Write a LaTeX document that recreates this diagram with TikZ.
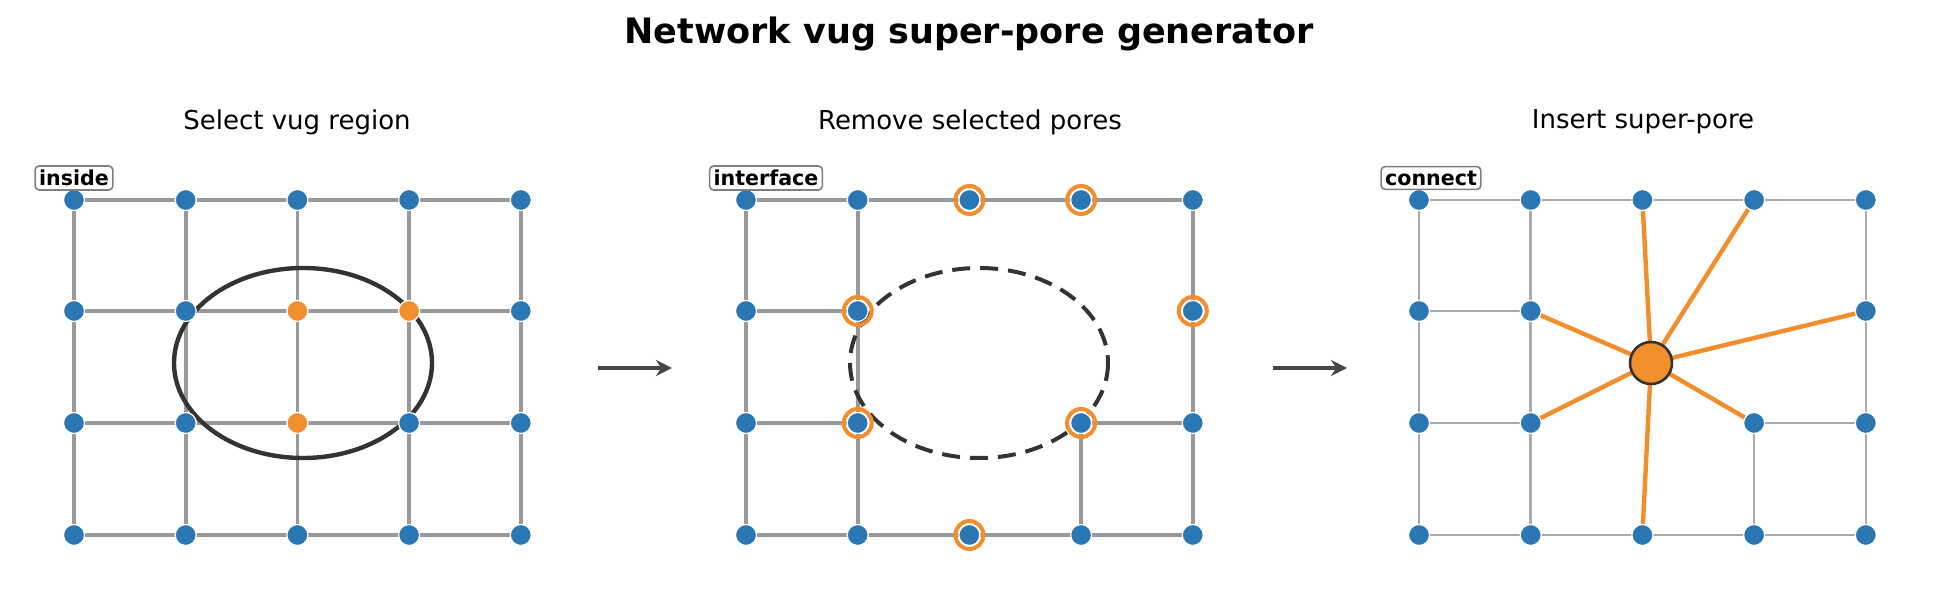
\documentclass[tikz,border=0pt]{standalone}
\usepackage{fontspec}
\setmainfont{DejaVu Sans}
\usetikzlibrary{arrows.meta}
\definecolor{pblue}{HTML}{2A77B4}
\definecolor{porange}{HTML}{F28E2B}
\definecolor{egray}{HTML}{999999}
\definecolor{lgray}{HTML}{AAAAAA}
\definecolor{dk}{HTML}{333333}
\tikzset{
  pore/.style={circle,fill=pblue,draw=white,line width=0.6pt,minimum size=10.5pt,inner sep=0pt},
  inpore/.style={pore,fill=porange},
  ring/.style={circle,draw=porange,line width=2pt,minimum size=14pt,inner sep=0pt},
  edge/.style={egray,line width=1.8pt},
  ledge/.style={lgray,line width=1.3pt},
  oedge/.style={porange,line width=2.2pt},
  tag/.style={draw=gray,rounded corners=2pt,fill=white,line width=0.8pt,font=\bfseries\fontsize{10.3}{12}\selectfont,inner sep=2pt},
  sub/.style={font=\fontsize{13}{15}\selectfont},
  arr/.style={-{Stealth[length=8pt,width=8pt]},line width=1.6pt,draw=dk!90}
}
\begin{document}
\begin{tikzpicture}[x=0.5pt,y=-0.5pt]
\useasboundingbox (0,0) rectangle (1939,608);
\node[font=\bfseries\fontsize{17.5}{20}\selectfont] (title) at (969,34) {Network vug super-pore generator};
\foreach \p/\ox in {a/74,b/746,c/1419}{
  \foreach \i in {0,...,4}{
    \foreach \j/\yy in {0/200,1/311,2/423,3/535}{
      \coordinate (\p\i\j) at ({\ox+111.7*\i},\yy);
    }}}
\node[sub] (s1) at (297,122) {Select vug region};
\node[sub] (s2) at (970,122) {Remove selected pores};
\node[sub] (s3) at (1643,122) {Insert super-pore};
% panel 1
\foreach \j in {0,...,3}{\foreach \i/\k in {0/1,1/2,2/3,3/4}{\draw[edge] (a\i\j) -- (a\k\j);}}
\foreach \i in {0,...,4}{\foreach \j/\k in {0/1,1/2,2/3}{\draw[edge] (a\i\j) -- (a\i\k);}}
\draw[dk,line width=2.2pt] (303,363) ellipse [x radius=129,y radius=95];
\foreach \i in {0,...,4}{\foreach \j in {0,...,3}{\node[pore] (na\i\j) at (a\i\j) {};}}
\node[inpore] (ia21) at (a21) {};
\node[inpore] (ia31) at (a31) {};
\node[inpore] (ia22) at (a22) {};
\node[tag] (t1) at (74,178) {inside};
% panel 2 and 3 edges
\foreach \p/\st in {b/edge,c/ledge}{
  \foreach \u/\v in {00/10,10/20,20/30,30/40,00/01,01/02,02/03,40/41,41/42,42/43,
    03/13,13/23,23/33,33/43,10/11,11/12,12/13,01/11,02/12,32/42,32/33}{
    \draw[\st] (\p\u) -- (\p\v);}
}
\draw[dk,line width=2pt,dash pattern=on 9pt off 5pt] (979,363) ellipse [x radius=129,y radius=95];
\coordinate (sp) at (1651,363);
\foreach \v in {20,30,11,41,12,32,23}{\draw[oedge] (sp) -- (c\v);}
\foreach \p in {b,c}{
  \foreach \v in {00,10,20,30,40,01,11,41,02,12,32,42,03,13,23,33,43}{\node[pore] (n\p\v) at (\p\v) {};}}
\foreach \v in {20,30,11,41,12,32,23}{\node[ring] (r\v) at (b\v) {};}
\node[circle,fill=porange,draw=dk,line width=1.3pt,minimum size=21pt,inner sep=0pt] (super) at (sp) {};
\node[tag] (t2) at (766,178) {interface};
\node[tag] (t3) at (1431,178) {connect};
\coordinate (a1s) at (598,368); \coordinate (a1e) at (672,368);
\coordinate (a2s) at (1273,368); \coordinate (a2e) at (1347,368);
\draw[arr] (a1s) -- (a1e);
\draw[arr] (a2s) -- (a2e);
\end{tikzpicture}
\end{document}
